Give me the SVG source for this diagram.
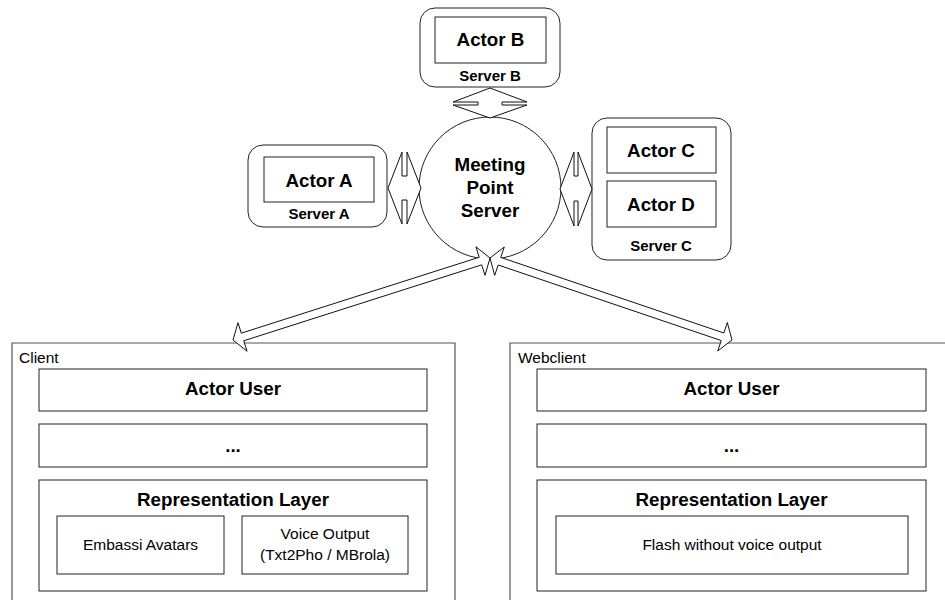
<svg xmlns="http://www.w3.org/2000/svg" width="945" height="600" viewBox="0 0 945 600">
<style>
.bg{fill:#fff}
.box{fill:#fff;stroke:#222;stroke-width:1}
.srv{fill:#fff;stroke:#222;stroke-width:1}
.outer{fill:none;stroke:#555;stroke-width:1.2}
.arr{fill:#fff;stroke:#111;stroke-width:1;stroke-linejoin:miter}
.b{font-family:"Liberation Sans",Arial,sans-serif;font-weight:bold;font-size:18.8px;fill:#000;text-anchor:middle}
.s{font-family:"Liberation Sans",Arial,sans-serif;font-weight:bold;font-size:15px;fill:#000;text-anchor:middle}
.r{font-family:"Liberation Sans",Arial,sans-serif;font-size:15.5px;fill:#000;text-anchor:middle}
.l{font-family:"Liberation Sans",Arial,sans-serif;font-size:15.5px;fill:#000}
</style>
<rect class="bg" x="0" y="0" width="945" height="600"/>

<g id="server-b">
<rect class="srv" x="420" y="8" width="140" height="79" rx="15"/>
<rect class="box" x="435" y="17" width="111" height="46"/>
<text class="b" x="490.5" y="46">Actor B</text>
<text class="s" x="490" y="81">Server B</text>
</g>

<g id="server-a">
<rect class="srv" x="248" y="145" width="139" height="82" rx="15"/>
<rect class="box" x="264" y="157" width="110" height="45"/>
<text class="b" x="319" y="187">Actor A</text>
<text class="s" x="319" y="219">Server A</text>
</g>

<g id="server-c">
<rect class="srv" x="592" y="118" width="139" height="142" rx="15"/>
<rect class="box" x="607" y="127" width="109" height="46"/>
<text class="b" x="661" y="157">Actor C</text>
<rect class="box" x="607" y="181" width="109" height="46"/>
<text class="b" x="661" y="211">Actor D</text>
<text class="s" x="661" y="251">Server C</text>
</g>

<g id="meeting-point-server">
<circle class="box" cx="490" cy="188" r="71"/>
<text class="b" x="490" y="171">Meeting</text>
<text class="b" x="490" y="194">Point</text>
<text class="b" x="490" y="217">Server</text>
</g>

<g id="client">
<path class="outer" d="M12,605 V343 H455 V605"/>
<text class="l" x="19" y="363">Client</text>
<rect class="box" x="39" y="369" width="388" height="42"/>
<text class="b" x="233" y="395">Actor User</text>
<rect class="box" x="39" y="424" width="388" height="43"/>
<text class="b" x="233" y="452">...</text>
<rect class="box" x="39" y="480" width="388" height="111"/>
<text class="b" x="233" y="506">Representation Layer</text>
<rect class="box" x="57" y="516" width="167" height="58"/>
<text class="r" x="140.5" y="550">Embassi Avatars</text>
<rect class="box" x="242" y="516" width="166" height="58"/>
<text class="r" x="325" y="539">Voice Output</text>
<text class="r" x="325" y="560">(Txt2Pho / MBrola)</text>
</g>

<g id="webclient">
<path class="outer" d="M510,605 V343 H950"/>
<text class="l" x="518" y="363">Webclient</text>
<rect class="box" x="537" y="369" width="389" height="42"/>
<text class="b" x="731.5" y="395">Actor User</text>
<rect class="box" x="537" y="424" width="389" height="43"/>
<text class="b" x="731.5" y="452">...</text>
<rect class="box" x="537" y="480" width="389" height="111"/>
<text class="b" x="731.5" y="506">Representation Layer</text>
<rect class="box" x="556" y="516" width="352" height="58"/>
<text class="r" x="732" y="550">Flash without voice output</text>
</g>

<g id="connectors">
<polygon class="arr" points="490,88 527,102 502,102 502,105 527,105 490,118 453,105 478,105 478,102 453,102"/>
<polygon class="arr" points="388,188 402,152 402,176 407,176 407,152 421,188 407,224 407,200 402,200 402,224"/>
<polygon class="arr" points="560,189 574,152 574,176 578,176 578,152 592,189 578,226 578,201 574,201 574,226"/>
<polygon class="arr" points="490,258 485.03,275.33 481.69,264.85 243.74,340.77 247.09,351.25 233,340 237.97,322.67 241.31,333.15 479.25,257.23 475.91,246.75"/>
<polygon class="arr" points="490,258 504.28,247 500.75,257.42 723.81,333 727.34,322.58 732,340 717.72,351 721.25,340.58 498.19,265 494.66,275.42"/>
</g>
</svg>
